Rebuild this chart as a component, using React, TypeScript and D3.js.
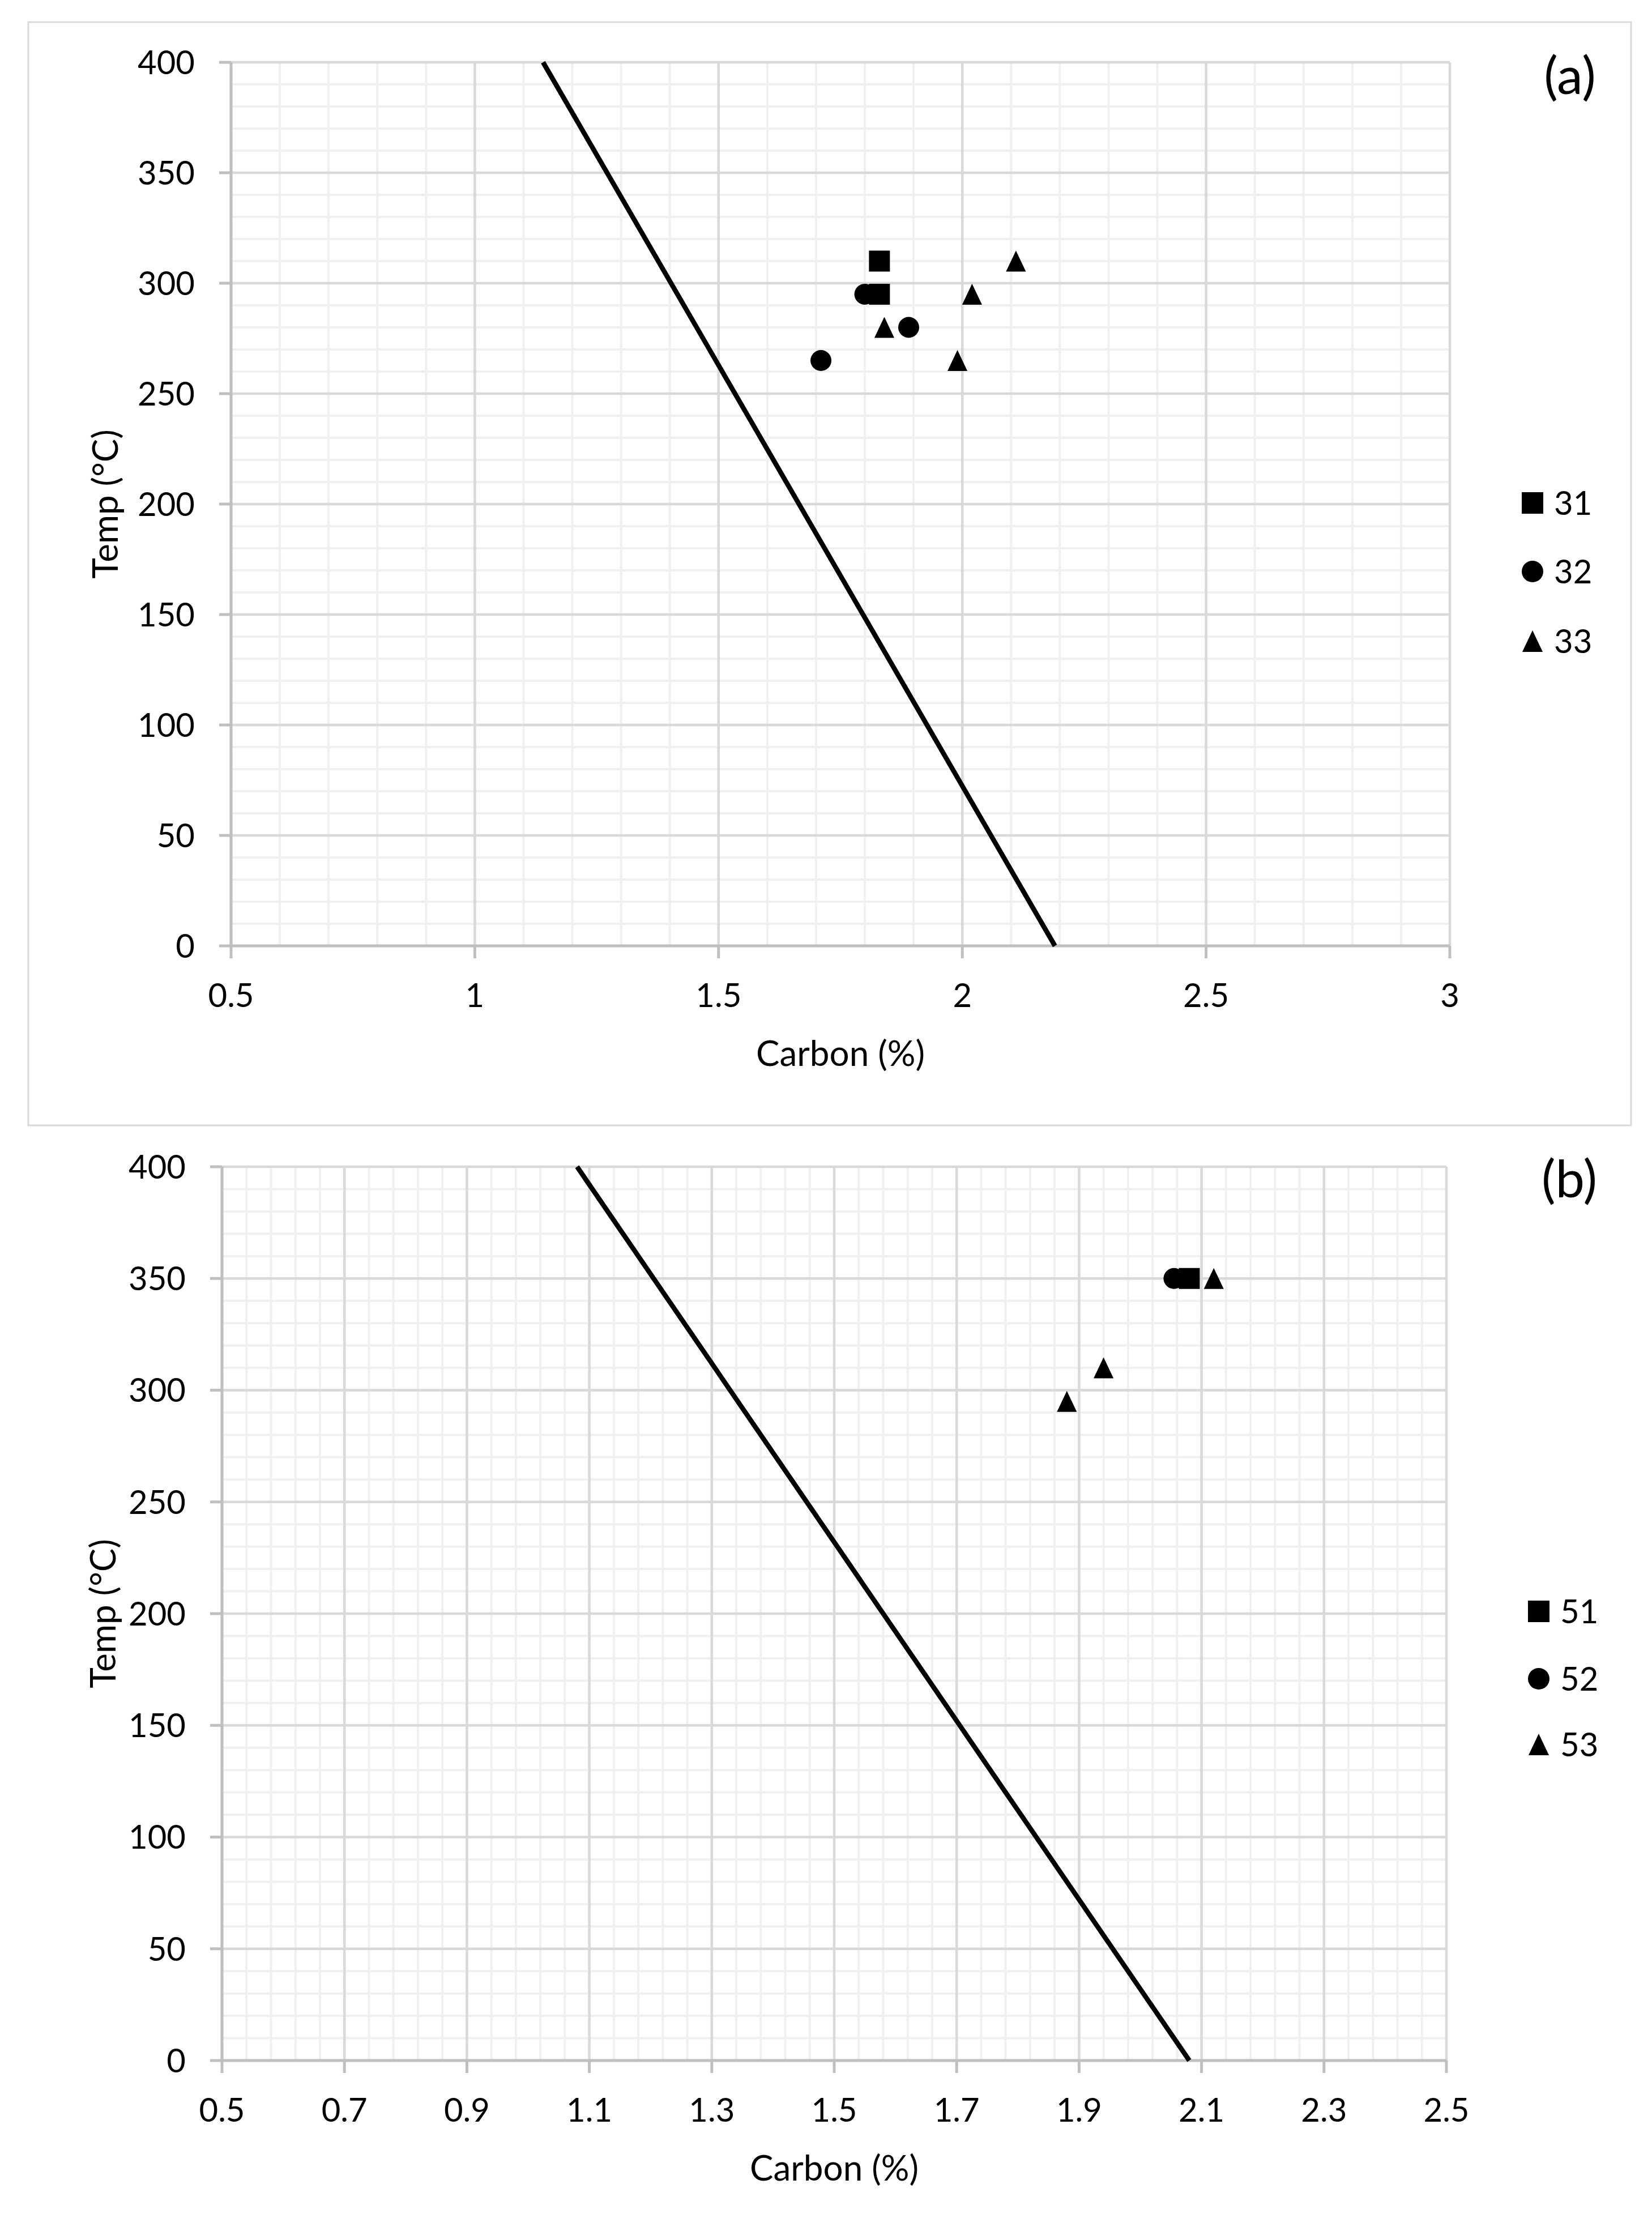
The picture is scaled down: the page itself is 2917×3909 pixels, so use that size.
import React, { useEffect, useRef } from 'react';
import * as d3 from 'd3';

interface Pt {
  c: number;
  t: number;
}

// panel (a)
const xTicksA = [0.5, 1, 1.5, 2, 2.5, 3];
const s31: Pt[] = [{ c: 1.83, t: 310 }, { c: 1.83, t: 295 }];
const s32: Pt[] = [{ c: 1.71, t: 265 }, { c: 1.8, t: 295 }, { c: 1.89, t: 280 }];
const s33: Pt[] = [{ c: 1.84, t: 280 }, { c: 1.99, t: 265 }, { c: 2.02, t: 295 }, { c: 2.11, t: 310 }];
const lineA: Pt[] = [{ c: 1.14, t: 400 }, { c: 2.19, t: 0 }];

// panel (b)
const xTicksB = [0.5, 0.7, 0.9, 1.1, 1.3, 1.5, 1.7, 1.9, 2.1, 2.3, 2.5];
const s51: Pt[] = [{ c: 2.08, t: 350 }];
const s52: Pt[] = [{ c: 2.055, t: 350 }];
const s53: Pt[] = [{ c: 1.88, t: 295 }, { c: 1.94, t: 310 }, { c: 2.12, t: 350 }];
const lineB: Pt[] = [{ c: 1.08, t: 400 }, { c: 2.08, t: 0 }];

const yTicks = [0, 50, 100, 150, 200, 250, 300, 350, 400];

const FONT = 'Lato, "Open Sans", sans-serif';

type Shape = 'square' | 'circle' | 'triangle';

interface PanelCfg {
  left: number; right: number; top: number; bottom: number;
  xDomain: [number, number];
  xTicks: number[];
  xMinor: number;
  series: { name: string; shape: Shape; data: Pt[] }[];
  line: Pt[];
  label: string;
  labelPos: [number, number];
  legendX: number;
  legendYs: number[];
  yTitleX: number;
}

const panels: PanelCfg[] = [
  {
    left: 408, right: 2560, top: 110, bottom: 1670,
    xDomain: [0.5, 3], xTicks: xTicksA, xMinor: 0.1,
    series: [
      { name: '31', shape: 'square', data: s31 },
      { name: '32', shape: 'circle', data: s32 },
      { name: '33', shape: 'triangle', data: s33 },
    ],
    line: lineA, label: '(a)', labelPos: [2772, 130],
    legendX: 2706, legendYs: [888, 1009, 1132], yTitleX: 184,
  },
  {
    left: 392, right: 2554, top: 2060, bottom: 3638,
    xDomain: [0.5, 2.5], xTicks: xTicksB, xMinor: 0.04,
    series: [
      { name: '51', shape: 'square', data: s51 },
      { name: '52', shape: 'circle', data: s52 },
      { name: '53', shape: 'triangle', data: s53 },
    ],
    line: lineB, label: '(b)', labelPos: [2771, 2078],
    legendX: 2717, legendYs: [2845, 2964, 3080], yTitleX: 180,
  },
];

function drawMarker(g: d3.Selection<SVGGElement, unknown, null, undefined>, shape: Shape, x: number, y: number, s: number) {
  if (shape === 'square') {
    g.append('rect').attr('x', x - s / 2).attr('y', y - s / 2).attr('width', s).attr('height', s).attr('fill', '#000');
  } else if (shape === 'circle') {
    g.append('circle').attr('cx', x).attr('cy', y).attr('r', s / 2).attr('fill', '#000');
  } else {
    const h = s;
    const w = s * 0.95;
    g.append('path')
      .attr('d', `M${x},${y - h / 2}L${x + w / 2},${y + h / 2}L${x - w / 2},${y + h / 2}Z`)
      .attr('fill', '#000');
  }
}

const App: React.FC = () => {
  const svgRef = useRef<SVGSVGElement | null>(null);

  useEffect(() => {
    const svg = d3.select(svgRef.current);
    svg.selectAll('*').remove();

    svg.append('rect').attr('width', 2917).attr('height', 3909).attr('fill', '#fff');

    // frame around panel (a)
    svg.append('rect')
      .attr('x', 50).attr('y', 39).attr('width', 2830).attr('height', 1948)
      .attr('fill', 'none').attr('stroke', '#d9d9d9').attr('stroke-width', 3);

    panels.forEach((p) => {
      const g = svg.append('g');
      const x = d3.scaleLinear().domain(p.xDomain).range([p.left, p.right]);
      const y = d3.scaleLinear().domain([0, 400]).range([p.bottom, p.top]);

      // minor grid
      const xMinor = d3.range(p.xDomain[0], p.xDomain[1] + 1e-9, p.xMinor);
      const yMinor = d3.range(0, 400 + 1e-9, 10);
      g.selectAll('line.ymin').data(yMinor).join('line')
        .attr('x1', p.left).attr('x2', p.right)
        .attr('y1', (d) => y(d)).attr('y2', (d) => y(d))
        .attr('stroke', '#f0f0f0').attr('stroke-width', 4);
      g.selectAll('line.xmin').data(xMinor).join('line')
        .attr('y1', p.top).attr('y2', p.bottom)
        .attr('x1', (d) => x(d)).attr('x2', (d) => x(d))
        .attr('stroke', '#f0f0f0').attr('stroke-width', 4);

      // major grid
      g.append('g').selectAll('line').data(yTicks).join('line')
        .attr('x1', p.left).attr('x2', p.right)
        .attr('y1', (d) => y(d)).attr('y2', (d) => y(d))
        .attr('stroke', '#d9d9d9').attr('stroke-width', 4.5);
      g.append('g').selectAll('line').data(p.xTicks).join('line')
        .attr('y1', p.top).attr('y2', p.bottom)
        .attr('x1', (d) => x(d)).attr('x2', (d) => x(d))
        .attr('stroke', '#d9d9d9').attr('stroke-width', 4.5);

      // axes
      const axisG = g.append('g').attr('stroke', '#bfbfbf').attr('stroke-width', 5);
      axisG.append('line').attr('x1', p.left).attr('x2', p.right).attr('y1', p.bottom).attr('y2', p.bottom);
      axisG.append('line').attr('x1', p.left).attr('x2', p.left).attr('y1', p.top).attr('y2', p.bottom);
      axisG.selectAll('line.xt').data(p.xTicks).join('line')
        .attr('x1', (d) => x(d)).attr('x2', (d) => x(d))
        .attr('y1', p.bottom).attr('y2', p.bottom + 22);
      axisG.selectAll('line.yt').data(yTicks).join('line')
        .attr('x1', p.left - 21).attr('x2', p.left)
        .attr('y1', (d) => y(d)).attr('y2', (d) => y(d));

      // tick labels
      g.append('g').selectAll('text').data(p.xTicks).join('text')
        .attr('x', (d) => x(d)).attr('y', p.bottom + 108)
        .attr('text-anchor', 'middle').attr('font-family', FONT).attr('font-size', 58)
        .text((d) => String(d));
      g.append('g').selectAll('text').data(yTicks).join('text')
        .attr('x', p.left - 64).attr('y', (d) => y(d))
        .attr('dy', '0.36em')
        .attr('text-anchor', 'end').attr('font-family', FONT).attr('font-size', 58)
        .text((d) => String(d));

      // titles
      g.append('text')
        .attr('x', (p.left + p.right) / 2).attr('y', p.bottom + 212)
        .attr('text-anchor', 'middle').attr('font-family', FONT).attr('font-size', 62)
        .text('Carbon (%)');
      g.append('text')
        .attr('transform', `translate(${p.yTitleX},${(p.top + p.bottom) / 2}) rotate(-90)`)
        .attr('text-anchor', 'middle').attr('dominant-baseline', 'central')
        .attr('font-family', FONT).attr('font-size', 62)
        .text('Temp (°C)');

      // trend line
      const lineGen = d3.line<Pt>().x((d) => x(d.c)).y((d) => y(d.t));
      g.append('path').datum(p.line).attr('d', lineGen)
        .attr('fill', 'none').attr('stroke', '#000').attr('stroke-width', 8.5);

      // markers
      const mg = g.append('g');
      p.series.forEach((s) => {
        s.data.forEach((d) => drawMarker(mg, s.shape, x(d.c), y(d.t), 37));
      });

      // panel label
      g.append('text')
        .attr('x', p.labelPos[0]).attr('y', p.labelPos[1])
        .attr('text-anchor', 'middle').attr('dominant-baseline', 'central')
        .attr('font-family', FONT).attr('font-size', 92)
        .text(p.label);

      // legend
      const lg = g.append('g');
      p.series.forEach((s, i) => {
        drawMarker(lg, s.shape, p.legendX, p.legendYs[i], 38);
        lg.append('text')
          .attr('x', p.legendX + 38).attr('y', p.legendYs[i]).attr('dy', '0.36em')
          .attr('font-family', FONT).attr('font-size', 58)
          .text(s.name);
      });
    });
  }, []);

  return (
    <div style={{ position: 'absolute', left: 0, top: 0 }}>
      <svg ref={svgRef} width={2917} height={3909}></svg>
    </div>
  );
};

export default App;
